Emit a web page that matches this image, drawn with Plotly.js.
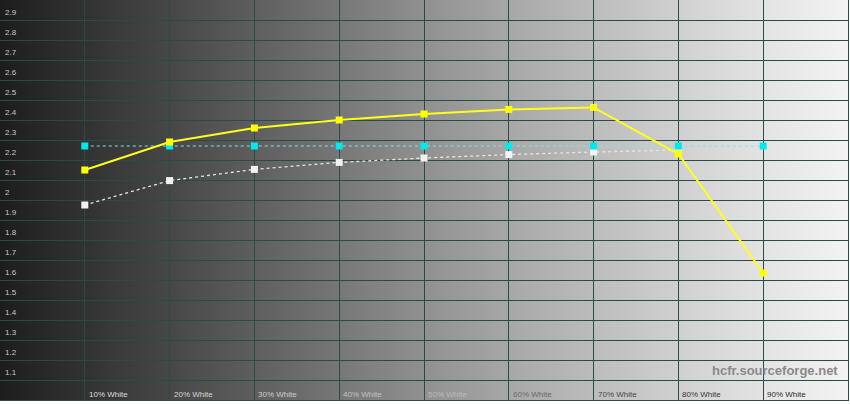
<!DOCTYPE html>
<html><head><meta charset="utf-8">
<script src="https://cdn.plot.ly/plotly-3.0.1.min.js"></script>
<style>
html,body{margin:0;padding:0;background:#ffffff;}
#wrap{position:relative;width:850px;height:404px;}
#bg{position:absolute;left:0;top:0;width:848px;height:400px;
background:linear-gradient(to right,#1d1d1d 0%,#323232 10%,#474747 20%,#5e5e5e 30%,#777 40%,#909090 50%,#a7a7a7 60%,#bcbcbc 70%,#d0d0d0 80%,#e3e3e3 90%,#f4f3f4 100%);}
#chart{position:absolute;left:0;top:0;width:850px;height:404px;}
</style></head>
<body><div id="wrap"><div id="bg"></div><div id="chart"></div></div>
<script>
const categories = ['10% White','20% White','30% White','40% White','50% White','60% White','70% White','80% White','90% White'];
const levels = [10,20,30,40,50,60,70,80,90];
const measuredGamma = [2.15, 2.29, 2.36, 2.40, 2.43, 2.453, 2.463, 2.23, 1.635];
const targetGamma = [2.27, 2.27, 2.27, 2.27, 2.27, 2.27, 2.27, 2.27, 2.27];
const greyGamma = [1.975, 2.097, 2.153, 2.188, 2.21, 2.227, 2.24, 2.25, null];
const yTickVals = [1.1,1.2,1.3,1.4,1.5,1.6,1.7,1.8,1.9,2.0,2.1,2.2,2.3,2.4,2.5,2.6,2.7,2.8,2.9];
const yTickText = ['1.1','1.2','1.3','1.4','1.5','1.6','1.7','1.8','1.9','2','2.1','2.2','2.3','2.4','2.5','2.6','2.7','2.8','2.9'];
const labelColors = ['#dedede','#d4d4d4','#cccccc','#c2c2c2','#bdbdbd','#6a6a6a','#454545','#383838','#2a2a2a'];

const traces = [
 {x: levels, y: greyGamma, mode:'lines+markers', type:'scatter',
  line:{color:'#e6e6e6', width:1.3, dash:'dot'},
  marker:{symbol:'square', size:7, color:'#f2f2f2'}, hoverinfo:'none'},
 {x: levels, y: targetGamma, mode:'lines+markers', type:'scatter',
  line:{color:'#7ee6e6', width:1, dash:'3px,3px'},
  marker:{symbol:'square', size:7, color:'#00e8f0'}, hoverinfo:'none'},
 {x: levels, y: measuredGamma, mode:'lines+markers', type:'scatter',
  line:{color:'#ffff1a', width:2},
  marker:{symbol:'square', size:7, color:'#ffff00'}, hoverinfo:'none'}
];

const annotations = [];
yTickVals.forEach((v,i)=>{
  annotations.push({xref:'paper', yref:'y', x:0.003, y:v, yshift:1, text:yTickText[i], showarrow:false,
    xanchor:'left', yanchor:'bottom', font:{family:'Liberation Sans, Arial', size:8, color:'#c8c8c8'}});
});
categories.forEach((c,i)=>{
  annotations.push({xref:'x', yref:'paper', x:levels[i], y:0, yshift:-1, xshift:2, text:c, showarrow:false,
    xanchor:'left', yanchor:'bottom', font:{family:'Liberation Sans, Arial', size:8, color:labelColors[i]}});
});
annotations.push({xref:'paper', yref:'paper', x:0.99, y:0.075, text:'hcfr.sourceforge.net', showarrow:false,
  xanchor:'right', yanchor:'middle', font:{family:'Liberation Sans, Arial', size:13, color:'#8a8a8a', weight:'bold'}});

const grid = '#2b4b47';
const layout = {
  width:850, height:404,
  margin:{l:0, r:2, t:0, b:4, pad:0},
  paper_bgcolor:'rgba(0,0,0,0)', plot_bgcolor:'rgba(0,0,0,0)',
  showlegend:false,
  xaxis:{range:[0,100], tick0:0, dtick:10, showgrid:true, gridcolor:grid, gridwidth:1,
    showticklabels:false, zeroline:false, showline:true, mirror:true, linecolor:grid, linewidth:1, ticks:''},
  yaxis:{range:[1,3], tick0:1, dtick:0.1, showgrid:true, gridcolor:grid, gridwidth:1,
    showticklabels:false, zeroline:false, showline:true, mirror:true, linecolor:grid, linewidth:1, ticks:''},
  annotations: annotations
};
Plotly.newPlot('chart', traces, layout, {displayModeBar:false, staticPlot:true});
</script></body></html>
